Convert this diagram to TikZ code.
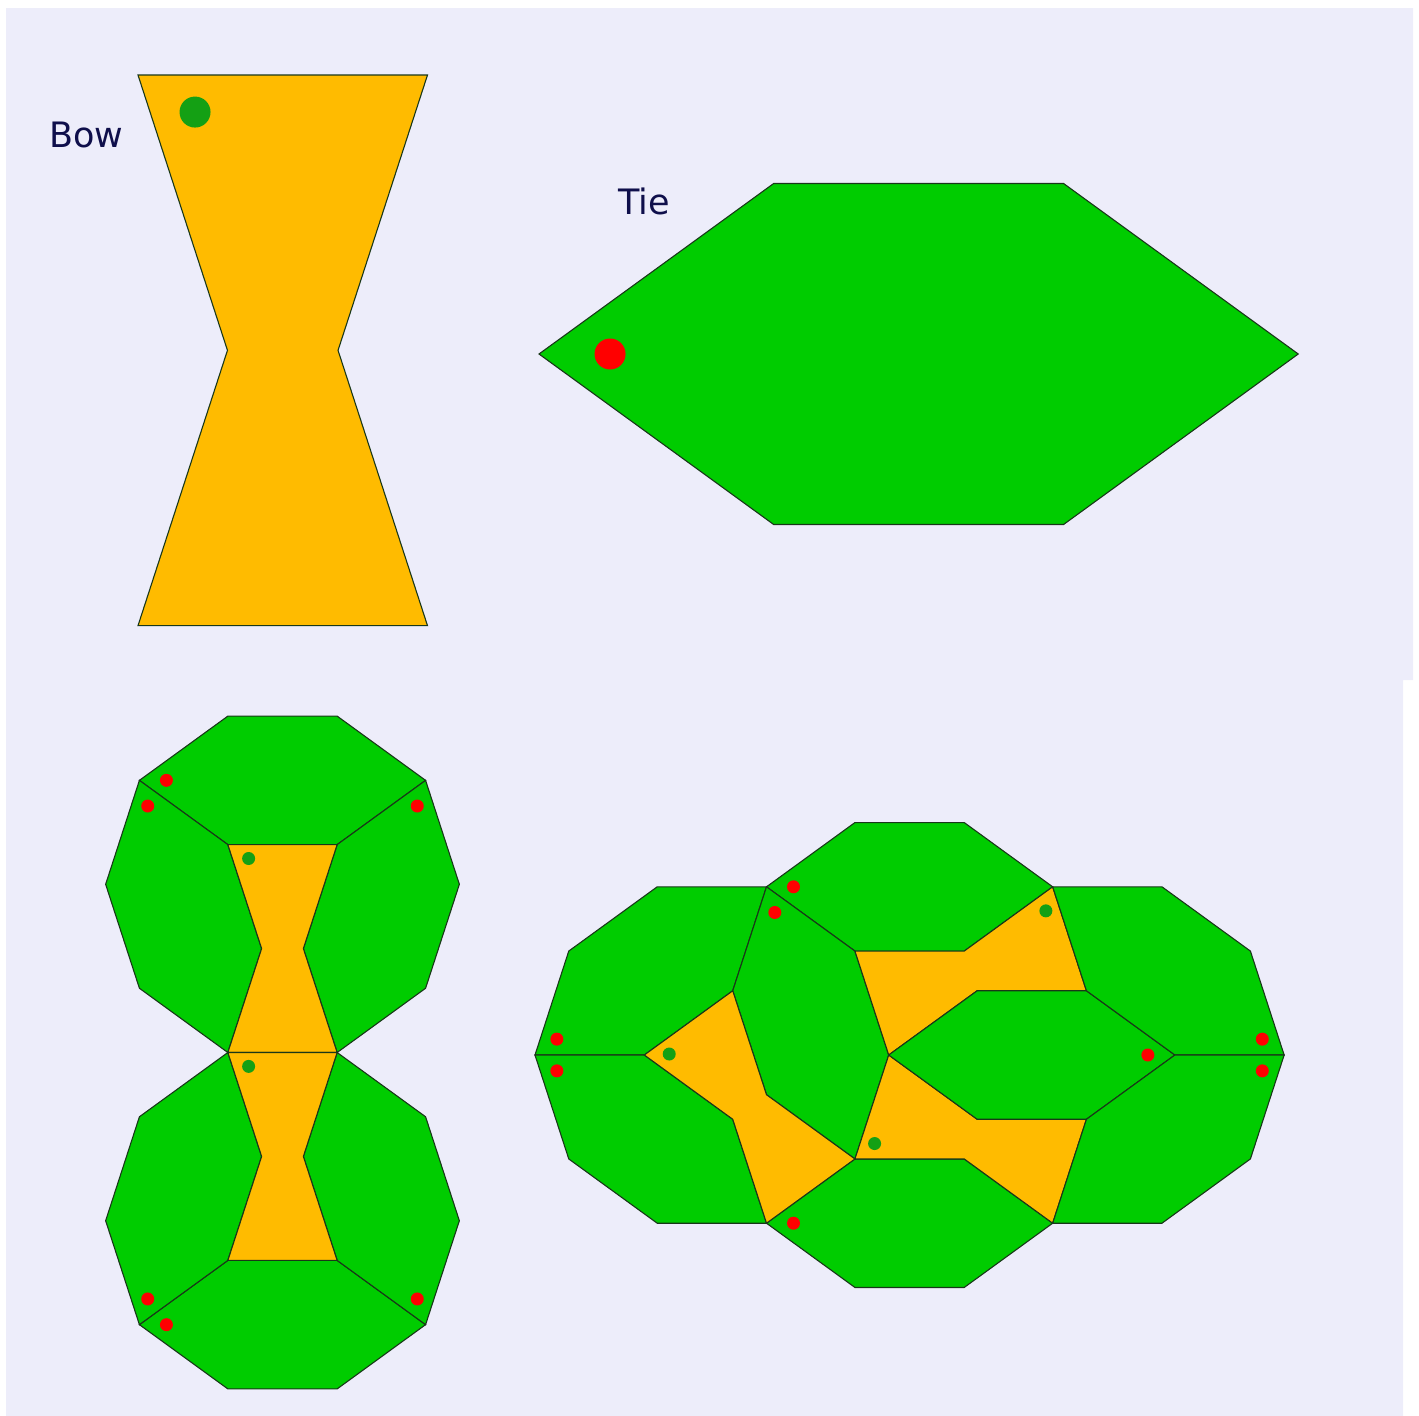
\documentclass[tikz,border=0pt]{standalone}
\usepackage{fontspec}
\setmainfont{DejaVu Sans}
\definecolor{bg}{RGB}{237,237,250}
\definecolor{bowc}{RGB}{255,187,0}
\definecolor{tiec}{RGB}{0,204,0}
\definecolor{edgec}{RGB}{25,55,25}
\definecolor{gdot}{RGB}{20,160,20}
\definecolor{rdot}{RGB}{255,0,0}
\definecolor{txt}{RGB}{15,15,75}
\begin{document}
\begin{tikzpicture}[x=1pt,y=-1pt,
  bowtile/.style={fill=bowc,draw=edgec,line width=1.1pt,line join=miter},
  tietile/.style={fill=tiec,draw=edgec,line width=1.1pt,line join=miter},
  gmark/.style={fill=gdot},
  rmark/.style={fill=rdot},
  lbl/.style={anchor=base west,text=txt,inner sep=0pt,font=\fontsize{35}{42}\selectfont}]
\useasboundingbox (0,0) rectangle (1419,1416);
\fill[bg] (6,8) -- (1413,8) -- (1413,680) -- (1403,680) -- (1403,1416) -- (6,1416) -- cycle;

% ---------- big bow ----------
\begin{scope}[shift={(138,75)},x=289.5pt,y=-289.5pt]
  \draw[bowtile] (0,0) -- (1,0) -- (0.690983,0.951057) -- (1,1.902113) -- (0,1.902113) -- (0.309017,0.951057) -- cycle;
  \fill[gmark] (0.197,0.128) circle[radius=15.5pt];
\end{scope}
\node[lbl] (bowlabel) at (49,147) {Bow};

% ---------- big tie ----------
\begin{scope}[shift={(539,354)},x=290pt,y=-290pt]
  \draw[tietile] (0,0) -- (0.809017,-0.587785) -- (1.809017,-0.587785) -- (2.618034,0) -- (1.809017,0.587785) -- (0.809017,0.587785) -- cycle;
  \fill[rmark] (0.245,0) circle[radius=15.5pt];
\end{scope}
\node[lbl] (tielabel) at (618,214) {Tie};

% ---------- two decagons (bottom left) ----------
\begin{scope}[shift={(282.5,1052.5)},x=109.3pt,y=-109.3pt]
  % upper decagon
  \draw[tietile] (-1.309017,-2.489899) -- (-0.5,-3.077684) -- (0.5,-3.077684) -- (1.309017,-2.489899) -- (0.5,-1.902113) -- (-0.5,-1.902113) -- cycle;
  \draw[tietile] (-1.309017,-2.489899) -- (-0.5,-1.902113) -- (-0.190983,-0.951057) -- (-0.5,0) -- (-1.309017,-0.587785) -- (-1.618034,-1.538842) -- cycle;
  \draw[tietile] (1.309017,-2.489899) -- (0.5,-1.902113) -- (0.190983,-0.951057) -- (0.5,0) -- (1.309017,-0.587785) -- (1.618034,-1.538842) -- cycle;
  \draw[bowtile] (-0.5,-1.902113) -- (0.5,-1.902113) -- (0.190983,-0.951057) -- (0.5,0) -- (-0.5,0) -- (-0.190983,-0.951057) -- cycle;
  % lower decagon
  \draw[tietile] (-1.309017,2.489899) -- (-0.5,3.077684) -- (0.5,3.077684) -- (1.309017,2.489899) -- (0.5,1.902113) -- (-0.5,1.902113) -- cycle;
  \draw[tietile] (-1.309017,2.489899) -- (-0.5,1.902113) -- (-0.190983,0.951057) -- (-0.5,0) -- (-1.309017,0.587785) -- (-1.618034,1.538842) -- cycle;
  \draw[tietile] (1.309017,2.489899) -- (0.5,1.902113) -- (0.190983,0.951057) -- (0.5,0) -- (1.309017,0.587785) -- (1.618034,1.538842) -- cycle;
  \draw[bowtile] (-0.5,1.902113) -- (0.5,1.902113) -- (0.190983,0.951057) -- (0.5,0) -- (-0.5,0) -- (-0.190983,0.951057) -- cycle;
  % markers
  \fill[gmark] (-0.31,-1.775) circle[radius=6.5pt];
  \fill[gmark] (-0.31,0.127) circle[radius=6.5pt];
  \fill[rmark] (-1.062,-2.49) circle[radius=6.5pt];
  \fill[rmark] (-1.233,-2.255) circle[radius=6.5pt];
  \fill[rmark] (1.233,-2.255) circle[radius=6.5pt];
  \fill[rmark] (-1.062,2.49) circle[radius=6.5pt];
  \fill[rmark] (-1.233,2.255) circle[radius=6.5pt];
  \fill[rmark] (1.233,2.255) circle[radius=6.5pt];
\end{scope}

% ---------- cluster (bottom right) ----------
\begin{scope}[shift={(535,1055)},x=109.3pt,y=-109.3pt]
  % left ties
  \draw[tietile] (0,0) -- (0.309017,-0.951057) -- (1.118034,-1.538842) -- (2.118034,-1.538842) -- (1.809017,-0.587785) -- (1,0) -- cycle;
  \draw[tietile] (0,0) -- (0.309017,0.951057) -- (1.118034,1.538842) -- (2.118034,1.538842) -- (1.809017,0.587785) -- (1,0) -- cycle;
  % top and bottom ties
  \draw[tietile] (2.118034,-1.538842) -- (2.927051,-2.126627) -- (3.927051,-2.126627) -- (4.736068,-1.538842) -- (3.927051,-0.951057) -- (2.927051,-0.951057) -- cycle;
  \draw[tietile] (2.118034,1.538842) -- (2.927051,2.126627) -- (3.927051,2.126627) -- (4.736068,1.538842) -- (3.927051,0.951057) -- (2.927051,0.951057) -- cycle;
  % middle left tie
  \draw[tietile] (2.118034,-1.538842) -- (2.927051,-0.951057) -- (3.236068,0) -- (2.927051,0.951057) -- (2.118034,0.363272) -- (1.809017,-0.587785) -- cycle;
  % left bow
  \draw[bowtile] (1,0) -- (1.809017,-0.587785) -- (2.118034,0.363272) -- (2.927051,0.951057) -- (2.118034,1.538842) -- (1.809017,0.587785) -- cycle;
  % right bows
  \draw[bowtile] (4.736068,-1.538842) -- (5.045085,-0.587785) -- (4.045085,-0.587785) -- (3.236068,0) -- (2.927051,-0.951057) -- (3.927051,-0.951057) -- cycle;
  \draw[bowtile] (4.736068,1.538842) -- (5.045085,0.587785) -- (4.045085,0.587785) -- (3.236068,0) -- (2.927051,0.951057) -- (3.927051,0.951057) -- cycle;
  % middle right tie
  \draw[tietile] (3.236068,0) -- (4.045085,-0.587785) -- (5.045085,-0.587785) -- (5.854102,0) -- (5.045085,0.587785) -- (4.045085,0.587785) -- cycle;
  % right ties
  \draw[tietile] (4.736068,-1.538842) -- (5.736068,-1.538842) -- (6.545085,-0.951057) -- (6.854102,0) -- (5.854102,0) -- (5.045085,-0.587785) -- cycle;
  \draw[tietile] (4.736068,1.538842) -- (5.736068,1.538842) -- (6.545085,0.951057) -- (6.854102,0) -- (5.854102,0) -- (5.045085,0.587785) -- cycle;
  % markers
  \fill[rmark] (0.2,-0.145) circle[radius=6.5pt];
  \fill[rmark] (0.2,0.145) circle[radius=6.5pt];
  \fill[rmark] (2.365,-1.539) circle[radius=6.5pt];
  \fill[rmark] (2.194,-1.304) circle[radius=6.5pt];
  \fill[rmark] (2.365,1.539) circle[radius=6.5pt];
  \fill[gmark] (1.228,-0.009) circle[radius=6.5pt];
  \fill[gmark] (4.674,-1.319) circle[radius=6.5pt];
  \fill[gmark] (3.107,0.810) circle[radius=6.5pt];
  \fill[rmark] (5.607,0) circle[radius=6.5pt];
  \fill[rmark] (6.654,-0.145) circle[radius=6.5pt];
  \fill[rmark] (6.654,0.145) circle[radius=6.5pt];
\end{scope}
\end{tikzpicture}
\end{document}
